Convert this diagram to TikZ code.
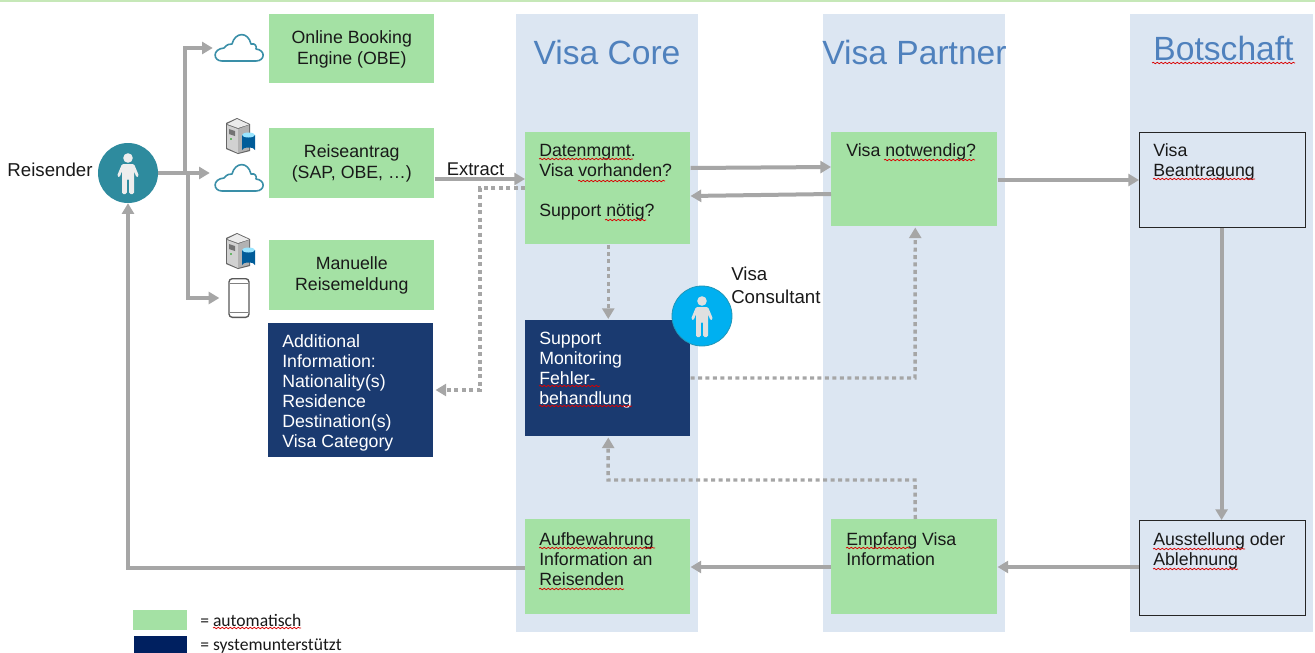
\documentclass[tikz,border=0pt]{standalone}
\usepackage{fontspec}
\setmainfont{Liberation Sans}
\newfontfamily\legendfont{Carlito}
\usetikzlibrary{arrows.meta,decorations.pathmorphing}
\definecolor{lanecol}{HTML}{DCE6F2}
\definecolor{greencol}{HTML}{A4E1A4}
\definecolor{navycol}{HTML}{1A3A70}
\definecolor{legnavy}{HTML}{002060}
\definecolor{titlecol}{HTML}{4F81BD}
\definecolor{flowcol}{HTML}{A6A6A6}
\definecolor{tealcol}{HTML}{2E8B9E}
\definecolor{skycol}{HTML}{00B0F0}
\definecolor{cloudcol}{HTML}{3A8FA8}
\definecolor{topcol}{HTML}{C6E8B8}
\newcommand{\pxbox}[6]{\node[#6,anchor=north west,inner sep=0pt,minimum width={(#4-#2)*0.75pt},minimum height={(#5-#3)*0.75pt}] (#1) at (#2,#3) {\vphantom{x}};}
\newcommand{\squig}[3]{\draw[red!85!black,line width=.55pt,decorate,decoration={snake,amplitude=.55pt,segment length=3pt}] (#1,#3) -- (#2,#3);}
\tikzset{
  x=0.75pt,y=-0.75pt,
  lane/.style={fill=lanecol},
  greenbox/.style={fill=greencol},
  navybox/.style={fill=navycol},
  outlinebox/.style={draw=black!85,line width=0.9pt},
  body/.style={font=\fontsize{13.3}{15}\selectfont,inner sep=0pt,align=left,text=black!90},
  bodyc/.style={font=\fontsize{13.3}{15.7}\selectfont,align=center,text=black!90},
  bodyw/.style={body,text=white},
  lanetitle/.style={font=\fontsize{25.2}{28}\selectfont,text=titlecol,inner sep=0pt},
  flow/.style={draw=flowcol,line width=3pt,-{Triangle[length=8pt,width=9pt]}},
  dotflow/.style={draw=flowcol,line width=2.6pt,dash pattern=on 3pt off 2.6pt,-{Triangle[length=8pt,width=9pt]}},
  person/.style={circle,minimum size=45pt,inner sep=0pt},
  legendtext/.style={font=\legendfont\fontsize{13.2}{15}\selectfont,inner sep=0pt,anchor=west,text=black!90},
  pics/figure/.style={code={
    \fill[#1] (0,-15) circle (4.8);
    \fill[#1,rounded corners=1pt] (-6,-9) -- (6,-9) -- (11,3) -- (8.5,4.5) -- (6,-2) -- (6,21) -- (1.2,21) -- (1.2,6) -- (-1.2,6) -- (-1.2,21) -- (-6,21) -- (-6,-2) -- (-8.5,4.5) -- (-11,3) -- cycle;
  }},
  pics/cloudicon/.style={code={
    \draw[cloudcol,line width=1.2pt,line join=round]
      (-17,13) .. controls (-26,13) and (-27,1) .. (-15,0)
      .. controls (-12,-4) and (-9,-4) .. (-7,-4)
      .. controls (-4,-16) and (9,-17) .. (12,-4)
      .. controls (16,-5) and (18,-2) .. (17,1)
      .. controls (27,2) and (26,13) .. (17,13) -- cycle;
  }},
  pics/servericon/.style={code={
    \fill[black!60] (-13,-14) -- (-2,-19) -- (11,-13) -- (11,14) -- (-1,17) -- (-13,12) -- cycle;
    \fill[black!8] (-12,-13) -- (-2,-18) -- (10,-12.5) -- (-1,-9) -- cycle;
    \fill[black!18] (-12,-12) -- (-1,-8) -- (-1,16) -- (-12,11) -- cycle;
    \fill[black!30] (-1,-8) -- (10,-12) -- (10,13) -- (-1,16) -- cycle;
    \fill[black!55] (-10,-8) -- (-4,-6) -- (-4,-1) -- (-10,-3) -- cycle;
    \fill[green!60!black] (-8,2) circle (0.8);
    \fill[blue!40!cyan!60!black] (3,-2) -- (3,13) arc[start angle=180,end angle=360,x radius=6.5,y radius=2.5] -- (16,-2) -- cycle;
    \fill[blue!25!cyan!40!white] (9.5,-2) ellipse (6.5 and 2.5);
  }}
}
\begin{document}
\begin{tikzpicture}
\clip (0,0) rectangle (1315,653);
\useasboundingbox (0,0) rectangle (1315,653);
\fill[white] (0,0) rectangle (1315,653);
\fill[topcol] (0,0) rectangle (1315,2);
% lanes
\pxbox{lanecore}{516}{14}{698}{632}{lane}
\pxbox{lanepartner}{823}{14}{1005}{632}{lane}
\pxbox{lanebot}{1130}{14}{1313}{632}{lane}
\node[lanetitle] (tcore) at (607,52) {Visa Core};
\node[lanetitle] (tpartner) at (914.5,52) {Visa Partner};
\node[lanetitle] (tbot) at (1223.5,48) {Botschaft};
% left boxes
\pxbox{obe}{269}{14}{434}{83}{greenbox}
\node[bodyc] (obet) at ([shift={(0,0.5)}]obe.center) {Online Booking\\Engine (OBE)};
\pxbox{reise}{269}{128}{434}{198}{greenbox}
\node[bodyc] (reiset) at ([shift={(0,0.5)}]reise.center) {Reiseantrag\\(SAP, OBE, …)};
\pxbox{manuell}{269}{240}{434}{310}{greenbox}
\node[bodyc] (manuellt) at ([shift={(0,0.5)}]manuell.center) {Manuelle\\Reisemeldung};
\pxbox{addinfo}{268}{323}{433}{457}{navybox}
\node[bodyw,anchor=north west] (addinfot) at (282,334) {Additional\\Information:\\Nationality(s)\\Residence\\Destination(s)\\Visa Category};
% core boxes
\pxbox{daten}{525}{132}{690}{244}{greenbox}
\node[body,anchor=north west] (datent) at (539,144) {Datenmgmt.\\Visa vorhanden?\\[15pt]Support nötig?};
\pxbox{support}{525}{320}{690}{436}{navybox}
\node[bodyw,anchor=north west] (supportt) at (539,332) {Support\\Monitoring\\Fehler-\\behandlung};
\pxbox{aufb}{525}{519}{690}{614}{greenbox}
\node[body,anchor=north west] (aufbt) at (539,532) {Aufbewahrung\\Information an\\Reisenden};
% partner boxes
\pxbox{notw}{831}{132}{997}{226}{greenbox}
\node[body,anchor=north west] (notwt) at (846,143) {Visa notwendig?};
\pxbox{empf}{831}{519}{997}{614}{greenbox}
\node[body,anchor=north west] (empft) at (846,532) {Empfang Visa\\Information};
% embassy boxes
\pxbox{beantr}{1139}{132}{1305}{227}{outlinebox}
\node[body,anchor=north west] (beantrt) at (1153,143) {Visa\\Beantragung};
\pxbox{ausst}{1139}{520}{1305}{615}{outlinebox}
\node[body,anchor=north west] (ausstt) at (1153,532) {Ausstellung oder\\Ablehnung};
% icons
\node[inner sep=0pt,minimum width=37.5pt,minimum height=21pt] (cloudone) at (239,48) {};
\node[inner sep=0pt,minimum width=37.5pt,minimum height=21pt] (cloudtwo) at (239,178) {};
\pic at (cloudone.center) {cloudicon};
\pic at (cloudtwo.center) {cloudicon};
\pic at (239,137) {servericon};
\pic at (239,252) {servericon};
\node[draw=black!65,line width=1pt,fill=white,rounded corners=2.5pt,inner sep=0pt,minimum width=15pt,minimum height=29pt] (phone) at (239,298) {};
\draw[black!50,line width=.6pt] (230,283) -- (248,283) (230,312) -- (248,312);
% traveller
\node[person,fill=tealcol] (reisender) at (128,173) {};
\pic at (reisender.center) {figure=white!93!black};
\node[font=\fontsize{14}{16}\selectfont,inner sep=0pt,text=black!90] (reisendert) at (50,170) {Reisender};
% connectors
\coordinate (branchup) at (185,173);
\coordinate (branchdown) at (188,173);
\draw[flow] (reisender.east) -- ([shift={(-4,-5)}]cloudtwo.west);
\draw[flow] (branchup) |- ([shift={(-1,0)}]cloudone.west);
\draw[flow] (branchdown) |- ([shift={(-9,0)}]phone.west);
\draw[flow] ([shift={(0,51)}]reise.north east) -- ([shift={(0,47)}]daten.north west);
\node[font=\fontsize{13.8}{16}\selectfont,inner sep=0pt,text=black!90] (extract) at (475.5,169) {Extract};
\coordinate (dleft) at (480,188);
\coordinate (dleftlow) at (480,390);
\draw[dotflow] ([shift={(0,56)}]daten.north west) -- (dleft) -- (dleftlow) -- ([shift={(2,67)}]addinfo.north east);
\draw[dotflow] ([shift={(0.5,0)}]daten.south) -- ([shift={(0.5,-1)}]support.north);
\coordinate (dright) at (915,378);
\draw[dotflow] ([shift={(0,58)}]support.north east) -- (dright) -- ([shift={(1,1)}]notw.south);
\coordinate (dupr) at (915,480);
\coordinate (dupl) at (608,480);
\draw[dotflow] ([shift={(1,0)}]empf.north) -- (dupr) -- (dupl) -- ([shift={(0.5,1)}]support.south);
\draw[flow] ([shift={(0,36)}]daten.north east) -- ([shift={(0,35)}]notw.north west);
\draw[flow] ([shift={(0,62)}]notw.north west) -- ([shift={(0,64)}]daten.north east);
\draw[flow] ([shift={(0,48)}]notw.north east) -- ([shift={(0,48)}]beantr.north west);
\draw[flow] ([shift={(-1,0)}]beantr.south) -- ([shift={(-1,0)}]ausst.north);
\draw[flow] ([shift={(0,47)}]ausst.north west) -- ([shift={(0,48)}]empf.north east);
\draw[flow] ([shift={(0,48)}]empf.north west) -- ([shift={(0,48)}]aufb.north east);
\coordinate (backcorner) at (128,568);
\draw[flow] ([shift={(0,49)}]aufb.north west) -- (backcorner) -- (reisender.south);
% consultant
\node[person,fill=skycol,draw=tealcol!70!skycol,line width=.6pt] (consultant) at (702,316) {};
\pic at (consultant.center) {figure=black!12};
\node[body,anchor=north west,font=\fontsize{14}{17}\selectfont] (consultantt) at (731,267) {Visa\\Consultant};
% spell-check underlines
\squig{1152}{1295}{63}
\squig{539}{633}{159}
\squig{578}{665}{181}
\squig{605}{646}{220}
\squig{539}{600}{386}
\squig{539}{632}{406}
\squig{884}{975}{160}
\squig{1153}{1255}{179}
\squig{539}{655}{548}
\squig{539}{624}{589}
\squig{846}{910}{548}
\squig{1153}{1245}{549}
\squig{1153}{1238}{569}
\squig{213}{301}{628}
% legend
\pxbox{legauto}{133}{610}{187}{630}{fill=greencol}
\pxbox{legsys}{134}{636}{187}{660}{fill=legnavy}
\node[legendtext] (legautot) at (200,620) {= automatisch};
\node[legendtext] (legsyst) at (200,646) {= systemunterstützt};
\end{tikzpicture}
\end{document}
